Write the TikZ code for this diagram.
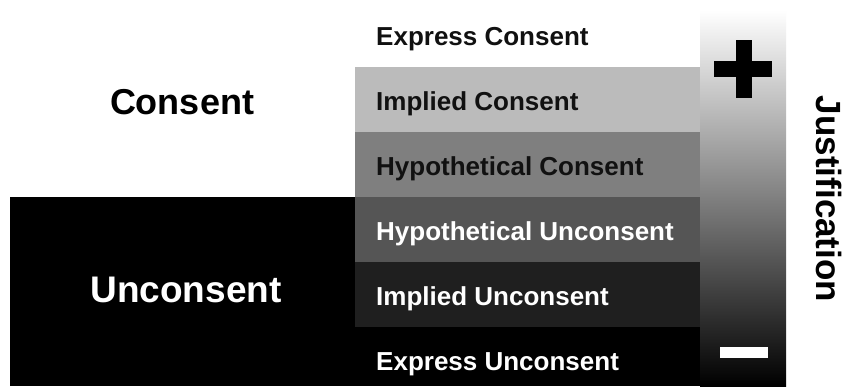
\documentclass[tikz,border=0pt]{standalone}
\usepackage{fontspec}
\setmainfont{Liberation Sans}
\definecolor{bandA}{HTML}{BBBBBB}
\definecolor{bandB}{HTML}{7F7F7F}
\definecolor{bandC}{HTML}{555555}
\definecolor{bandD}{HTML}{1F1F1F}
\definecolor{inkdark}{HTML}{111111}
\tikzset{
  bandtxt/.style={anchor=base west, inner sep=0pt, font=\fontsize{26}{30}\selectfont\bfseries},
  bigtxt/.style={anchor=base, inner sep=0pt, font=\fontsize{37}{42}\selectfont\bfseries},
}
\begin{document}
\begin{tikzpicture}[x=1pt,y=-1pt]
\useasboundingbox (0,0) rectangle (846,386);
\fill[white] (0,0) rectangle (846,386);
% big black region
\fill[black] (10,197) rectangle (355,386);
% bands
\fill[bandA] (355,67) rectangle (701,132);
\fill[bandB] (355,132) rectangle (701,197);
\fill[bandC] (355,197) rectangle (701,262);
\fill[bandD] (355,262) rectangle (701,327);
\fill[black] (355,327) rectangle (701,386);
% gradient bar
\shade[top color=white, bottom color=black, middle color=black!50] (700,10) rectangle (786,386);
% plus and minus
\fill[black] (714,61) rectangle (772,77);
\fill[black] (736,40) rectangle (752,98);
\fill[white] (720,347) rectangle (768,358);
% band labels
\node[bandtxt, text=inkdark] (ec) at (376,45.5) {Express Consent};
\node[bandtxt, text=inkdark] (ic) at (376,110.5) {Implied Consent};
\node[bandtxt, text=inkdark] (hc) at (376,175.5) {Hypothetical Consent};
\node[bandtxt, text=white] (hu) at (376,240.5) {Hypothetical Unconsent};
\node[bandtxt, text=white] (iu) at (376,305.5) {Implied Unconsent};
\node[bandtxt, text=white] (eu) at (376,370.5) {Express Unconsent};
% big labels
\node[bigtxt, text=black, font=\fontsize{36}{40}\selectfont\bfseries] (consent) at (182,114) {Consent};
\node[bigtxt, text=white, font=\fontsize{37}{42}\selectfont\bfseries] (unconsent) at (186,302) {Unconsent};
\node[bigtxt, text=black, rotate=-90, font=\fontsize{35}{40}\selectfont\bfseries] (just) at (816,199) {Justification};
\end{tikzpicture}
\end{document}
